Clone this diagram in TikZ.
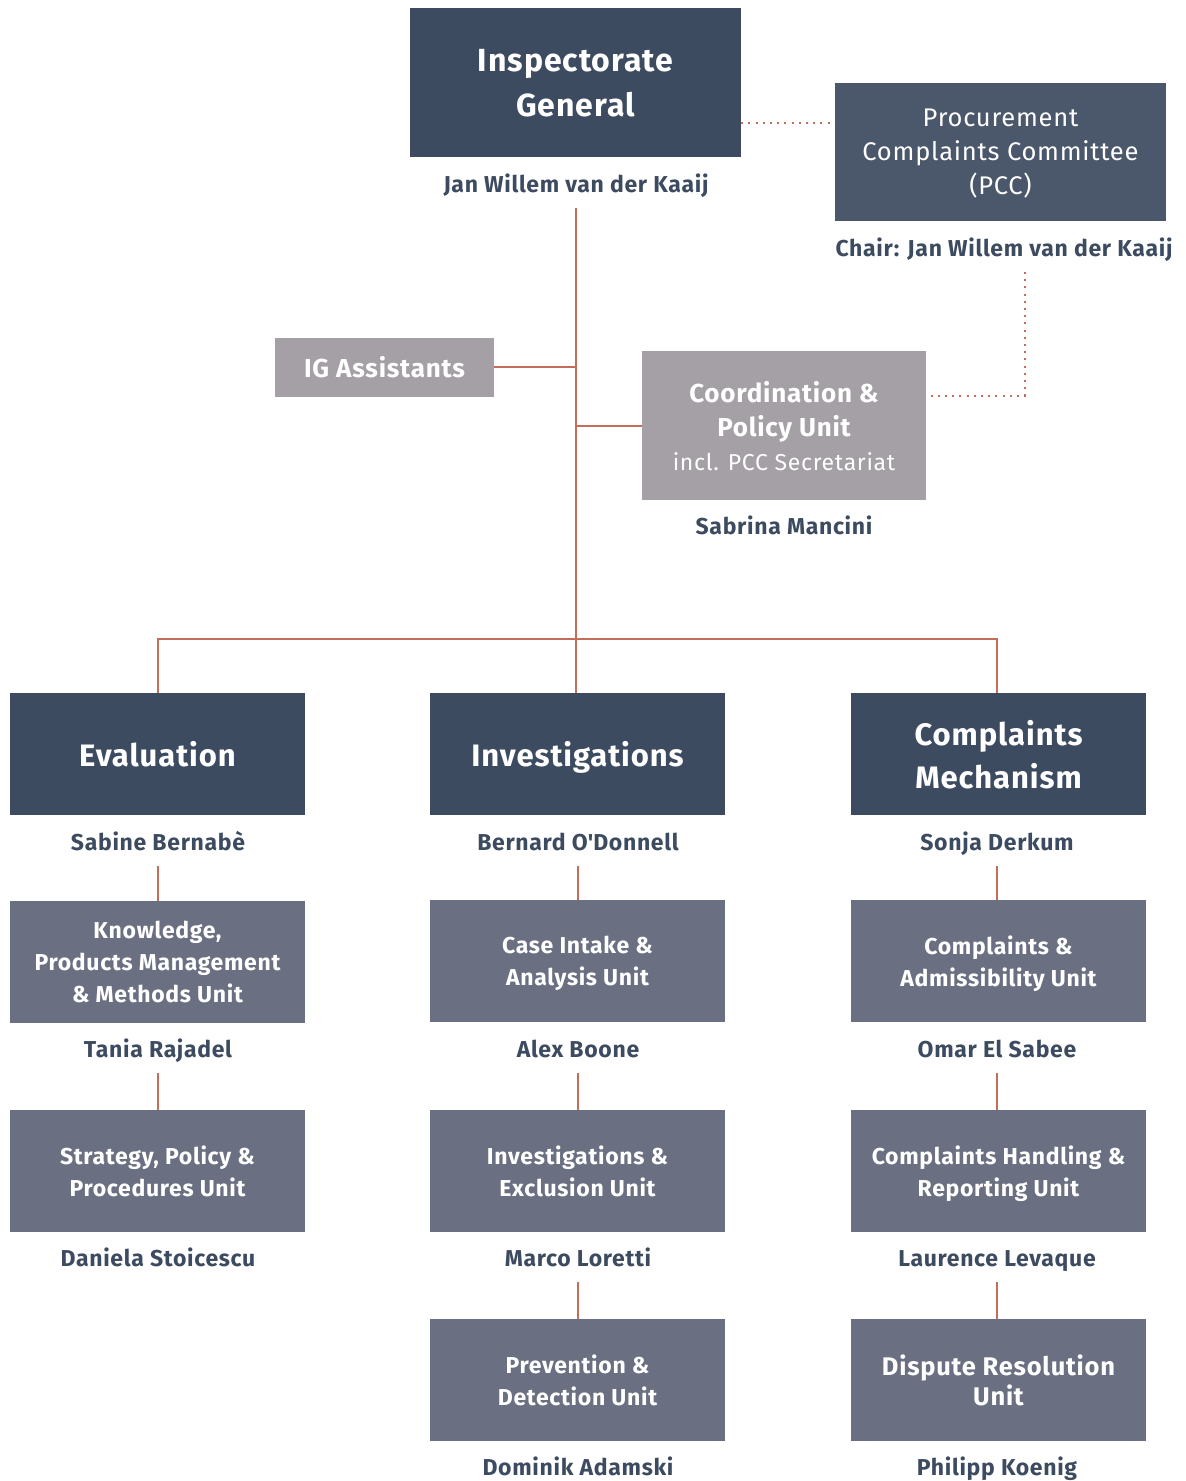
\documentclass[tikz,border=0pt]{standalone}
\usepackage{fontspec}
\setmainfont{Fira Sans}[LetterSpace=3]
\usetikzlibrary{calc}
\definecolor{navy}{HTML}{3D4B61}
\definecolor{pccblue}{HTML}{4B576B}
\definecolor{slate}{HTML}{6A6F82}
\definecolor{stone}{HTML}{A4A0A5}
\definecolor{rust}{HTML}{C26E59}
\begin{document}
\begin{tikzpicture}[x=1pt,y=-1pt,
  box/.style={rectangle,inner sep=0pt,align=center,text=white,text depth=0pt,font=\bfseries},
  headbox/.style={box,fill=navy,minimum width=295,minimum height=122,
    font=\fontsize{31}{43}\selectfont\bfseries},
  unitbox/.style={box,fill=slate,minimum width=295,minimum height=122,
    font=\fontsize{23}{32}\selectfont\bfseries},
  person/.style={inner xsep=0pt,inner ysep=16pt,text height=16pt,text depth=0pt,
    text=navy,font=\fontsize{23}{27}\selectfont\bfseries},
  link/.style={draw=rust,line width=2pt},
  dotline/.style={draw=rust,line width=2pt,dash pattern=on 2pt off 5.2pt}]
\useasboundingbox (0,0) rectangle (1186,1481);

% top management
\node[box,fill=navy,minimum width=331,minimum height=149,
  font=\fontsize{32}{45}\selectfont\bfseries] (ig) at (575.5,82.5) {Inspectorate\\General};
\node[person] (igname) at (576,184) {Jan Willem van der Kaaij};

\node[box,fill=pccblue,minimum width=331,minimum height=138,
  font=\fontsize{25.5}{34}\selectfont] (pcc) at (1000.5,152) {Procurement\\Complaints Committee\\(PCC)};
\node[person] (pccname) at (1004,248) {Chair: Jan Willem van der Kaaij};
\coordinate (pccdrop) at (1025,272);

\node[box,fill=stone,minimum width=219,minimum height=59,
  font=\fontsize{26}{30}\selectfont\bfseries] (asst) at (384.5,367) {IG Assistants};

\node[box,fill=stone,minimum width=284,minimum height=149,
  font=\fontsize{26}{34}\selectfont\bfseries] (coord) at (784,425.5)
  {Coordination \&\\Policy Unit\\{\fontsize{23}{34}\selectfont\mdseries incl. PCC Secretariat}};
\node[person] (coordname) at (784,526) {Sabrina Mancini};

% departments
\node[headbox] (eval) at (157.5,754) {Evaluation};
\node[headbox] (inv) at (577.5,754) {Investigations};
\node[headbox] (comp) at (998.5,754) {Complaints\\Mechanism};
\node[person] (evalname) at (158,842) {Sabine Bernabè};
\node[person] (invname) at (578,842) {Bernard O\textquotesingle Donnell};
\node[person] (compname) at (997,842) {Sonja Derkum};

% units, first row
\node[unitbox] (kpm) at (157.5,962) {Knowledge,\\Products Management\\\& Methods Unit};
\node[unitbox] (cia) at (577.5,961) {Case Intake \&\\Analysis Unit};
\node[unitbox] (cau) at (998.5,961) {Complaints \&\\Admissibility Unit};
\node[person] (kpmname) at (158,1049) {Tania Rajadel};
\node[person] (cianame) at (578,1049) {Alex Boone};
\node[person] (cauname) at (997,1049) {Omar El Sabee};

% units, second row
\node[unitbox] (spp) at (157.5,1171) {Strategy, Policy \&\\Procedures Unit};
\node[unitbox] (ieu) at (577.5,1171) {Investigations \&\\Exclusion Unit};
\node[unitbox] (chr) at (998.5,1171) {Complaints Handling \&\\Reporting Unit};
\node[person] (sppname) at (158,1258) {Daniela Stoicescu};
\node[person] (ieuname) at (578,1258) {Marco Loretti};
\node[person] (chrname) at (997,1258) {Laurence Levaque};

% units, third row
\node[unitbox] (pdu) at (577.5,1380) {Prevention \&\\Detection Unit};
\node[unitbox,font=\fontsize{25.5}{30}\selectfont\bfseries] (dru) at (998.5,1380) {Dispute Resolution\\Unit};
\node[person] (pduname) at (578,1467) {Dominik Adamski};
\node[person] (druname) at (997,1467) {Philipp Koenig};

% reporting lines
\coordinate (bar) at (575,639);
\draw[link] (igname.south) -- (inv.north -| igname.south);
\draw[link] (asst.east) -- (asst.east -| igname.south);
\draw[link] (coord.west) -- (coord.west -| igname.south);
\draw[link] (eval.north -| evalname.south) |- (bar) -| (comp.north -| compname.south);

\foreach \a/\b in {evalname/kpm,kpmname/spp,invname/cia,cianame/ieu,ieuname/pdu,
                   compname/cau,cauname/chr,chrname/dru}
  \draw[link] (\a.south) -- (\b.north -| \a.south);

% dotted links to the committee
\draw[dotline] ([yshift=-40pt]ig.east) -- ([yshift=-40pt]ig.east -| pcc.west);
\draw[dotline] (pccdrop) |- ([yshift=30pt]coord.east);
\end{tikzpicture}
\end{document}
